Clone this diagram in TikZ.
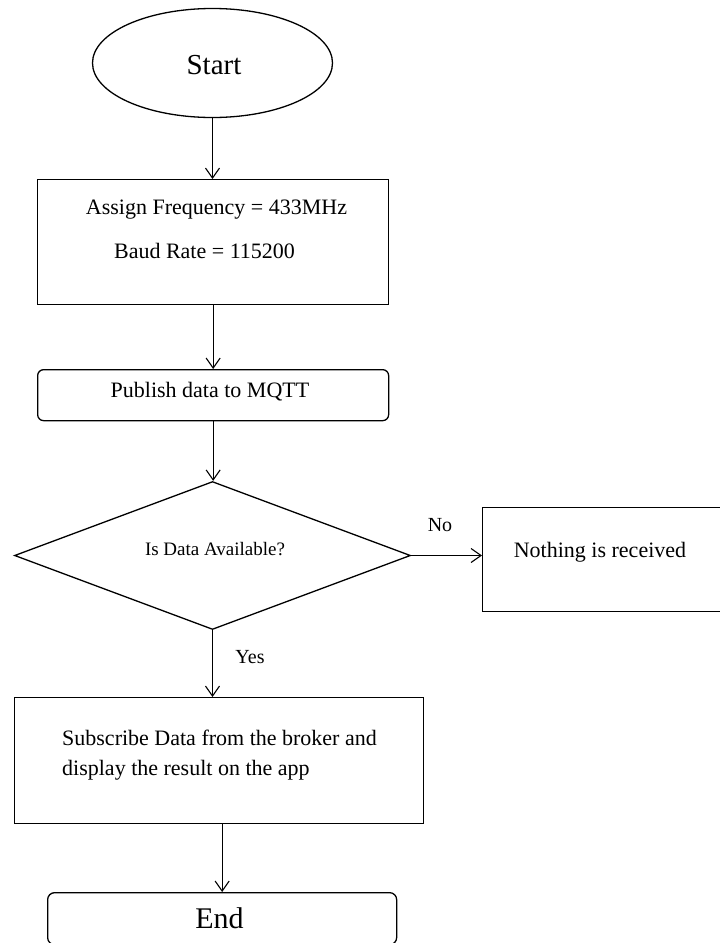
\documentclass[tikz,border=0pt]{standalone}
\usepackage{fontspec}
\setmainfont{Liberation Serif}
\usetikzlibrary{shapes.geometric,arrows.meta}
\begin{document}
\begin{tikzpicture}[x=1pt,y=-1pt,
  flow/.style={line width=1.1pt,-{Straight Barb[length=10pt,width=14pt,line width=1.1pt]}},
  box/.style={draw,line width=1.3pt,inner sep=0pt},
  txt/.style={inner sep=0pt,anchor=base,font=\fontsize{22}{26}\selectfont},
]
\useasboundingbox (0,0) rectangle (720,943);
\clip (0,0) rectangle (720,943);

% shapes
\node[box,ellipse,minimum width=240pt,minimum height=109pt] (start) at (212.5,63) {};
\node[box,minimum width=351pt,minimum height=125pt,anchor=north west] (assign) at (37,179) {};
\node[box,rounded corners=6pt,minimum width=351pt,minimum height=51pt,anchor=north west] (publish) at (37,369) {};
\node[box,diamond,minimum width=396pt,minimum height=148pt] (check) at (212.5,555.5) {};
\node[box,minimum width=300pt,minimum height=104pt,anchor=north west] (nothing) at (482,507) {};
\node[box,minimum width=409pt,minimum height=126pt,anchor=north west] (subscribe) at (14,697) {};
\node[box,rounded corners=7pt,minimum width=349pt,minimum height=52pt,anchor=north west] (endbox) at (47,892) {};

% texts
\node[txt,font=\fontsize{29}{34}\selectfont] (starttxt) at (214,74) {Start};
\node[txt] (freq) at (216.5,214) {Assign Frequency = 433MHz};
\node[txt] (baud) at (204.5,258) {Baud Rate = 115200};
\node[txt] (pubtxt) at (210,397) {Publish data to MQTT};
\node[txt,font=\fontsize{19}{22}\selectfont] (asktxt) at (215,555) {Is Data Available?};
\node[txt,font=\fontsize{20}{24}\selectfont] (notxt) at (440,531) {No};
\node[txt] (nothingtxt) at (600,557) {Nothing is received};
\node[txt,font=\fontsize{20}{24}\selectfont] (yestxt) at (250,663) {Yes};
\node[txt,anchor=base west] (sub1) at (62,745) {Subscribe Data from the broker and};
\node[txt,anchor=base west] (sub2) at (62,775) {display the result on the app};
\node[txt,font=\fontsize{30}{35}\selectfont] (endtxt) at (219.5,928) {End};

% connectors
\draw[flow] (start.south) -- (start.south |- assign.north);
\draw[flow] (assign.south) -- (publish.north);
\draw[flow] (publish.south) -- (publish.south |- check.north);
\draw[flow] (check.east) -- (check.east -| nothing.west);
\draw[flow] (check.south) -- (check.south |- subscribe.north);
\draw[flow] (subscribe.south -| endbox.north) -- (endbox.north);
\end{tikzpicture}
\end{document}
